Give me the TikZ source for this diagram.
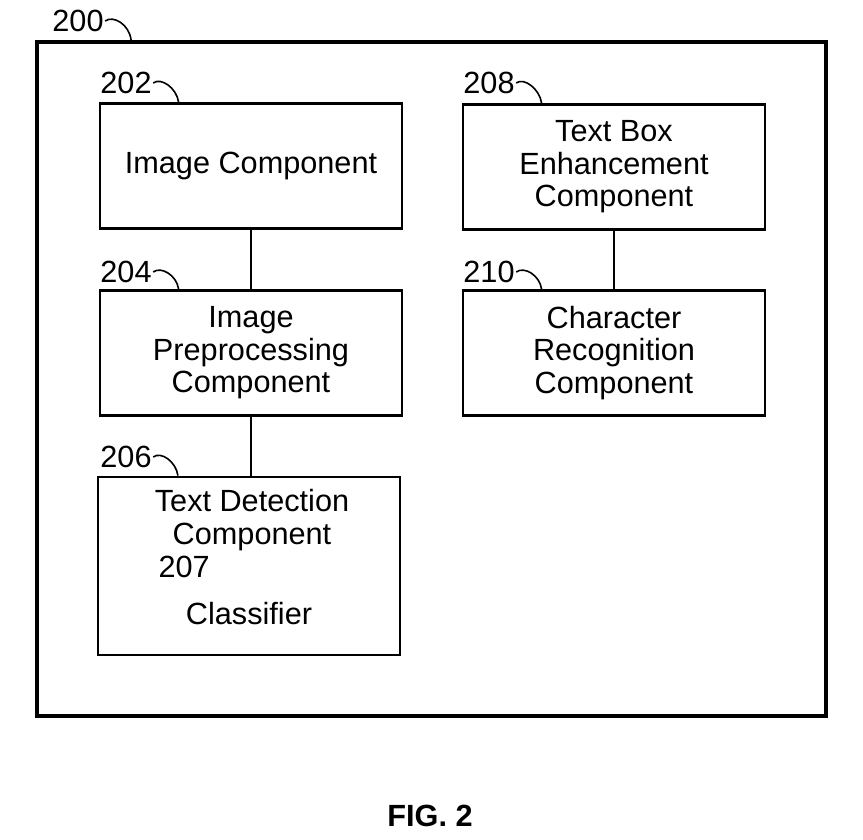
\documentclass[tikz,border=0pt]{standalone}
\usepackage{fontspec}
\setmainfont{Liberation Sans}
\usepackage{tikz}
\usetikzlibrary{calc}
\tikzset{
    comp/.style={draw, line width=2.1pt, minimum width=226.5pt, minimum height=93.75pt,
        inner sep=0pt, align=center, font=\fontsize{23}{24.4}\selectfont},
    tag/.style={inner sep=1pt, font=\fontsize{23}{24.4}\selectfont},
    hook/.style={line width=1.2pt},
    link/.style={line width=1.7pt}
}

\begin{document}
\begin{tikzpicture}[x=0.75pt,y=-0.75pt]
        \useasboundingbox (0,0) rectangle (863,839);
        \begin{scope}[shift={(0,0)}]
            % frame
            \draw (431.5,379) node[draw, line width=2.8pt, minimum width=591.75pt, minimum height=505.5pt](sys){};

            % boxes
            \draw (251,166) node[comp](img){Image Component};
            \draw (251,353) node[comp](pre){Image\\Preprocessing\\Component};
            \draw (249,566) node[comp, minimum height=133.5pt](det){};
            \draw (614,167) node[comp](enh){Text Box\\Enhancement\\Component};
            \draw (614,353) node[comp](ocr){Character\\Recognition\\Component};

            \draw (252,544) node[tag, anchor=base, align=center](detxt){Text Detection\\Component};
            \draw (157,577) node[tag, anchor=base west](t207){207};
            \draw (249,624) node[tag, anchor=base](cls){Classifier};

            % links
            \draw[link] (img) -- (pre);
            \draw[link] (pre.south) -- (pre.south |- det.north);
            \draw[link] (enh) -- (ocr);

            % reference numbers
            \draw ( 78,21) node[tag](t200){200};
            \draw (126,83) node[tag](t202){202};
            \draw (126,272) node[tag](t204){204};
            \draw (126,457) node[tag](t206){206};
            \draw (489,83) node[tag](t208){208};
            \draw (489,272) node[tag](t210){210};

            \draw[hook] (t200.east) .. controls +(8,-6) and +(-2,-16) .. ([xshift=72pt]sys.north west);
            \draw[hook] (t202.east) .. controls +(8,-6) and +(-2,-14) .. ([xshift=60pt]img.north west);
            \draw[hook] (t204.east) .. controls +(8,-6) and +(-2,-14) .. ([xshift=60pt]pre.north west);
            \draw[hook] (t206.east) .. controls +(8,-6) and +(-2,-14) .. ([xshift=61pt]det.north west);
            \draw[hook] (t208.east) .. controls +(8,-6) and +(-2,-14) .. ([xshift=60pt]enh.north west);
            \draw[hook] (t210.east) .. controls +(8,-6) and +(-2,-14) .. ([xshift=60pt]ocr.north west);

            \draw (430,816) node[tag, font=\fontsize{23}{24.4}\selectfont\bfseries](fig){FIG. 2};
        \end{scope}
    \end{tikzpicture}
\end{document}
